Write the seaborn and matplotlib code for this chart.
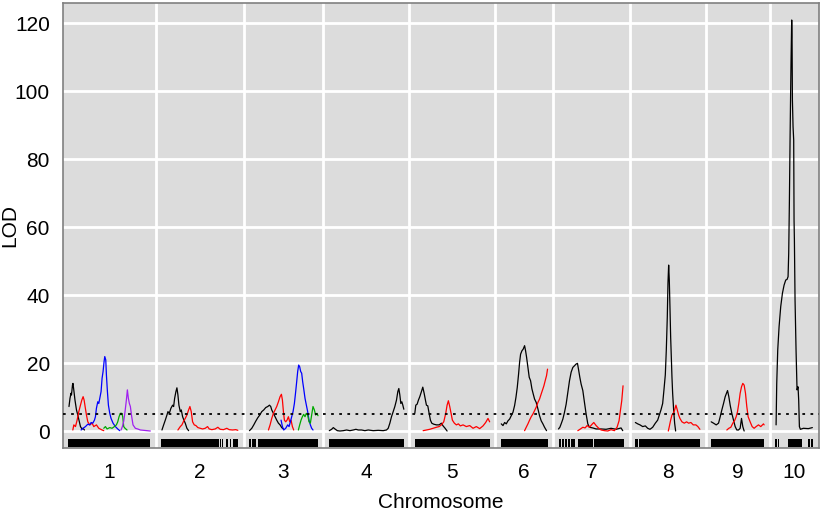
import numpy as np
import pandas as pd
import matplotlib
matplotlib.use("Agg")
import matplotlib.pyplot as plt
import seaborn as sns

# ---------------- data ----------------
chromosomes = ["1", "2", "3", "4", "5", "6", "7", "8", "9", "10"]
chrom_lengths = [164, 154, 138, 150, 150, 94, 132, 130, 106, 76]
gap = 22
lod_threshold = 5.0
y_ticks = [0, 20, 40, 60, 80, 100, 120]

c1_black_pos = [1, 3, 5, 6, 8, 9, 11, 13, 16, 19, 21, 24, 27, 29, 32]
c1_black_lod = [7.2, 9.6, 11.1, 10.6, 13.5, 14.0, 11.6, 9.1, 6.2, 4.5, 3.2, 1.3, 0.6, 0.8, 0.3]
c1_red_pos = [8.7, 10.7, 14, 17.3, 20.7, 24, 26.7, 29.3, 31.3, 33.3, 36, 38.7, 42.7, 47.3, 50.7, 56, 60.7, 67.3, 70.7]
c1_red_lod = [0.3, 1.8, 1.3, 3.2, 5.7, 7.6, 9.1, 10.1, 9.1, 7.2, 4.7, 2.7, 1.8, 2.3, 1.3, 1.8, 0.8, 0.3, 0.1]
c1_blue_pos = [25.3, 29.3, 34, 38.7, 42.7, 45.3, 48.7, 52, 54, 56, 58.7, 60.7, 62.7, 65.3, 67.3, 69.3, 71.3, 72.7,
               74.7, 76, 78, 80, 82.7, 85.3, 89.3, 94, 98.7, 102.7]
c1_blue_lod = [0.3, 0.8, 1.3, 2.0, 1.8, 2.5, 2.3, 3.2, 4.2, 6.7, 8.6, 8.1, 9.6, 11.6, 15.5, 17.5, 20.4, 21.9,
               20.9, 16.5, 11.6, 7.6, 5.2, 3.7, 2.3, 1.3, 0.6, 0.1]
c1_green_pos = [70.7, 74, 77.3, 82.7, 87.3, 92, 96, 98.7, 101.3, 104, 106.7, 108.7, 110.7, 113.3, 117.3]
c1_green_lod = [0.8, 1.3, 0.6, 1.0, 0.8, 1.3, 1.8, 2.7, 4.2, 5.2, 5.2, 4.2, 1.3, 0.8, 0.3]
c1_purple_pos = [105.3, 108, 110.7, 113.3, 116, 118, 120, 122, 124, 126.7, 129.3, 134, 138.7, 144, 150.7, 157.3, 164]
c1_purple_lod = [0.3, 1.3, 2.9, 5.7, 9.1, 12.1, 9.6, 8.1, 7.2, 4.2, 1.8, 0.8, 0.6, 0.3, 0.2, 0.1, 0.0]

c2_black_pos = [1.3, 4.7, 8, 11.3, 13.3, 16, 19.3, 22.7, 24.7, 26.7, 29.3, 31.3, 33.3, 35.3, 38, 40, 42.7, 45.3, 48, 51.3, 54.7]
c2_black_lod = [0.3, 1.8, 3.2, 4.7, 5.7, 5.2, 6.7, 7.6, 7.2, 9.6, 11.6, 12.7, 10.6, 7.6, 5.7, 6.2, 4.2, 3.2, 2.3, 0.8, 0.1]
c2_red_pos = [33.3, 38, 41.3, 44.7, 48, 51.3, 54.7, 57.3, 60, 62.7, 66, 69.3, 73.3, 78, 82.7, 88, 92.7, 96, 101.3,
              108, 113.3, 118, 124.7, 131.3, 136, 142.7, 149.3, 153.3]
c2_red_lod = [0.3, 1.3, 1.8, 2.9, 3.7, 4.7, 6.2, 7.2, 5.7, 2.7, 1.8, 1.6, 1.0, 0.8, 0.6, 0.8, 1.3, 0.6, 0.4,
              0.6, 1.1, 0.5, 0.4, 0.8, 0.4, 0.3, 0.4, 0.2]

c3_black_pos = [0.7, 5.3, 9.3, 13.3, 17.3, 21.3, 25.3, 29.3, 33.3, 37.3, 40.7, 43.3, 45.3, 48.7, 52, 55.3, 58.7, 62, 65.3, 68.7]
c3_black_lod = [0.1, 0.8, 1.8, 2.9, 3.9, 4.7, 5.7, 6.2, 6.9, 7.2, 7.6, 7.2, 6.2, 5.2, 4.2, 3.2, 2.3, 1.8, 1.0, 0.6]
c3_red_pos = [38.7, 42, 45.3, 48.7, 52, 55.3, 58.7, 62, 64.7, 66.7, 68.7, 70.7, 73.3, 76, 78.7, 81.3, 84, 86.7, 89.3]
c3_red_lod = [0.3, 1.8, 3.7, 5.2, 6.2, 7.2, 8.6, 10.1, 10.8, 9.1, 5.7, 3.2, 2.7, 3.2, 4.2, 2.7, 3.2, 1.3, 0.3]
c3_blue_pos = [64, 66.7, 69.3, 73.3, 77.3, 80, 82.7, 85.3, 88, 90.7, 93.3, 95.3, 97.3, 99.3, 101.3, 103.3, 105.3,
               107.3, 109.3, 112, 114.7, 117.3, 120, 122.7, 125.3, 128]
c3_blue_lod = [3.2, 1.3, 0.3, 0.8, 1.8, 1.3, 2.7, 4.2, 5.7, 8.1, 11.6, 14.5, 17.5, 19.4, 18.9, 17.5, 17.0,
               14.5, 12.5, 9.6, 7.6, 5.7, 3.2, 1.8, 0.8, 0.3]
c3_green_pos = [98.7, 101.3, 104, 106.7, 109.3, 112, 114.7, 117.3, 120, 122.7, 125.3, 128, 130.7, 133.3, 136, 138]
c3_green_lod = [0.3, 1.8, 3.2, 4.2, 4.9, 4.2, 5.2, 4.7, 2.7, 2.3, 4.7, 7.2, 6.2, 4.7, 5.2, 4.5]

c4_black_pos = [0.7, 5.3, 8.7, 12, 16.7, 22, 28.7, 35.3, 42, 48.7, 54, 58.7, 65.3, 72, 78.7, 88.7, 98.7, 108.7,
                115.3, 118.7, 122, 125.3, 128.7, 132, 135.3, 138, 140, 142, 144, 146, 148, 150]
c4_black_lod = [0.1, 0.5, 1.0, 0.6, 0.1, 0.0, 0.1, 0.3, 0.1, 0.3, 0.5, 0.3, 0.3, 0.1, 0.3, 0.1, 0.2, 0.1,
                0.3, 0.8, 2.3, 4.2, 5.7, 7.2, 9.1, 11.6, 12.5, 10.6, 8.1, 8.6, 7.6, 6.4]

c5_black_pos = [0, 2, 4.7, 7.3, 10, 13.3, 16, 18.7, 21.3, 23.3, 26, 28.7, 31.3, 34, 38, 43.3, 48.7, 53.3, 56.7, 60.7, 64.7]
c5_black_lod = [5.2, 7.6, 7.9, 9.1, 10.1, 11.6, 12.9, 11.1, 9.1, 7.6, 7.4, 5.2, 3.2, 2.3, 2.0, 1.8, 1.8, 2.3, 1.5, 0.8, 0.0]
c5_red_pos = [16.7, 23.3, 30, 36.7, 43.3, 48.7, 53.3, 58, 62, 64.7, 67.3, 70, 72.7, 75.3, 79.3, 83.3, 87.3, 91.3,
              96.7, 103.3, 110, 116.7, 123.3, 130, 136.7, 142, 146.7, 150]
c5_red_lod = [0.1, 0.3, 0.5, 0.8, 1.1, 1.3, 1.8, 2.7, 5.2, 7.6, 8.9, 7.2, 5.2, 3.2, 2.3, 1.8, 2.1, 1.5,
              1.8, 1.3, 1.6, 0.8, 1.3, 0.7, 1.5, 2.5, 3.7, 2.7]

c6_black_pos = [1.3, 4.7, 8, 11.3, 14.7, 18, 21.3, 24.7, 28, 30.7, 33.3, 36, 38, 40, 42.7, 45.3, 48, 50, 52, 54.7,
                57.3, 60, 62.7, 65.3, 68, 71.3, 74.7, 78, 81.3, 84.7, 88, 92]
c6_black_lod = [2.1, 1.6, 2.5, 2.1, 3.0, 3.5, 4.5, 5.5, 7.5, 9.9, 12.8, 16.8, 20.2, 22.6, 23.6, 24.1, 25.1, 23.6,
                21.7, 18.7, 15.8, 14.8, 12.4, 10.9, 9.4, 8.4, 6.5, 4.5, 3.0, 2.1, 1.1, 0.1]
c6_red_pos = [48, 51.3, 54.7, 58, 61.3, 64.7, 68, 71.3, 74.7, 78, 81.3, 84.7, 86.7, 89.3, 92, 94]
c6_red_lod = [0.1, 1.1, 2.1, 3.2, 4.2, 5.0, 6.0, 7.0, 8.4, 9.4, 10.9, 12.4, 13.3, 14.8, 16.3, 18.2]

c7_black_pos = [0, 2.7, 5.3, 8.7, 12, 15.3, 18.7, 22, 25.3, 28.7, 32, 35.3, 38, 40, 42.7, 45.3, 48.7, 52, 55.3,
                58.7, 62, 68.7, 75.3, 85.3, 95.3, 105.3, 115.3, 125.3, 128.7]
c7_black_lod = [0.6, 1.1, 2.1, 3.5, 5.5, 7.9, 11.4, 14.8, 17.3, 18.7, 19.2, 19.7, 19.9, 18.2, 15.8, 13.8, 11.9,
                8.4, 5.0, 2.1, 1.1, 0.9, 0.6, 0.6, 0.5, 0.8, 0.5, 0.9, 0.1]
c7_red_pos = [38.7, 44, 48.7, 53.3, 57.3, 62, 66.7, 70.7, 75.3, 80, 85.3, 92, 98.7, 105.3, 112, 117.3, 121.3,
              124, 126.7, 129.3]
c7_red_lod = [0.1, 0.6, 1.1, 0.9, 1.6, 1.1, 1.9, 2.5, 1.6, 0.9, 0.3, 0.1, 0.0, 0.4, 0.1, 1.1, 3.0, 6.0, 8.9, 13.3]

c8_black_pos = [0, 4.7, 9.3, 14.7, 20, 24.7, 29.3, 34.7, 40, 44.7, 48, 51.3, 54.7, 57.3, 60, 62, 64, 65.3, 66.7,
                68, 69.3, 70.7, 72, 73.3, 74.7, 76.7, 78.7, 80.7]
c8_black_lod = [2.5, 2.1, 1.8, 1.3, 1.5, 0.8, 0.5, 1.1, 2.3, 3.2, 4.7, 6.2, 8.1, 12.1, 16.5, 23.8, 33.6, 43.4,
                48.8, 44.4, 36.6, 27.7, 21.9, 16.0, 11.1, 6.2, 2.3, 0.0]
c8_red_pos = [66, 68, 70.7, 73.3, 76, 78.7, 81.3, 84, 86.7, 89.3, 93.3, 98, 102.7, 106.7, 111.3, 116, 121.3, 125.3, 129.3]
c8_red_lod = [0.0, 1.3, 3.2, 4.7, 5.2, 6.2, 7.6, 6.2, 4.7, 3.7, 2.7, 2.3, 2.7, 2.3, 2.5, 1.8, 1.8, 1.3, 0.5]

c9_black_pos = [0, 4.7, 10, 14.7, 18, 21.3, 24.7, 28, 32.7, 35.3, 38, 41.3, 44.7, 48, 51.3, 54.7, 58, 60.7, 63.3, 66]
c9_black_lod = [2.7, 2.3, 1.8, 2.3, 4.2, 6.2, 8.1, 10.1, 11.9, 10.1, 7.6, 5.2, 3.2, 1.3, 0.3, 0.3, 0.8, 3.7, 1.3, 0.0]
c9_red_pos = [31.3, 35.3, 39.3, 43.3, 47.3, 50, 52.7, 55.3, 58, 60.7, 63.3, 66, 68.7, 71.3, 74, 78, 82, 86, 90,
              94.7, 99.3, 104.7, 106]
c9_red_lod = [0.3, 0.8, 1.1, 2.3, 3.2, 4.2, 5.7, 8.1, 11.1, 13.0, 14.0, 13.5, 11.1, 7.2, 4.2, 2.7, 1.3, 0.8, 1.3,
              1.8, 1.3, 2.1, 1.8]

c10_black_pos = [2, 3.3, 5.3, 8, 11.3, 14.7, 18, 21.3, 24, 26, 27.3, 28.7, 30, 31.3, 32, 33.3, 34, 34.7, 36, 37.3,
                 38, 38.7, 40, 42, 44, 46, 47.3, 48.7, 50.7, 56.7, 66.7, 74.7]
c10_black_lod = [1.8, 14.0, 23.8, 30.7, 36.6, 40.5, 42.9, 44.4, 44.6, 45.4, 52.3, 67.9, 85.6, 101.3, 109.1, 120.9,
                 116.0, 97.4, 89.5, 85.6, 62.1, 56.2, 38.5, 23.8, 12.1, 13.0, 9.1, 1.3, 0.5, 0.8, 0.7, 1.0]

# marker coverage blocks (start, end) in cM within each chromosome
markers_chr1 = [(0, 164)]
markers_chr2 = [(0, 115), (117, 119), (122, 124), (130, 133), (137, 139), (143, 153)]
markers_chr3 = [(0, 3), (6, 14), (17, 138)]
markers_chr4 = [(0, 150)]
markers_chr5 = [(0, 150)]
markers_chr6 = [(0, 94)]
markers_chr7 = [(0, 4), (6, 10), (12, 17), (19, 24), (26, 34), (40, 70), (72, 132)]
markers_chr8 = [(0, 6), (8, 130)]
markers_chr9 = [(0, 106)]
markers_chr10 = [(0, 3), (5, 8), (26, 54), (66, 69), (71, 76)]

curves = [
    ("1", "black", c1_black_pos, c1_black_lod), ("1", "red", c1_red_pos, c1_red_lod),
    ("1", "blue", c1_blue_pos, c1_blue_lod), ("1", "green", c1_green_pos, c1_green_lod),
    ("1", "purple", c1_purple_pos, c1_purple_lod),
    ("2", "black", c2_black_pos, c2_black_lod), ("2", "red", c2_red_pos, c2_red_lod),
    ("3", "black", c3_black_pos, c3_black_lod), ("3", "red", c3_red_pos, c3_red_lod),
    ("3", "blue", c3_blue_pos, c3_blue_lod), ("3", "green", c3_green_pos, c3_green_lod),
    ("4", "black", c4_black_pos, c4_black_lod),
    ("5", "black", c5_black_pos, c5_black_lod), ("5", "red", c5_red_pos, c5_red_lod),
    ("6", "black", c6_black_pos, c6_black_lod), ("6", "red", c6_red_pos, c6_red_lod),
    ("7", "black", c7_black_pos, c7_black_lod), ("7", "red", c7_red_pos, c7_red_lod),
    ("8", "black", c8_black_pos, c8_black_lod), ("8", "red", c8_red_pos, c8_red_lod),
    ("9", "black", c9_black_pos, c9_black_lod), ("9", "red", c9_red_pos, c9_red_lod),
    ("10", "black", c10_black_pos, c10_black_lod),
]
marker_blocks = [markers_chr1, markers_chr2, markers_chr3, markers_chr4, markers_chr5,
                 markers_chr6, markers_chr7, markers_chr8, markers_chr9, markers_chr10]

# ---------------- layout ----------------
starts = {}
s = 0.0
for ch, ln in zip(chromosomes, chrom_lengths):
    starts[ch] = s
    s += ln + gap
total_end = s - gap

rows = []
for i, (ch, col, pos, lod) in enumerate(curves):
    for p, l in zip(pos, lod):
        rows.append({"curve": i, "trait": col, "gpos": starts[ch] + p, "lod": l})
df = pd.DataFrame(rows)

sns.set_style("white")
plt.rcParams["font.family"] = ["Liberation Sans", "DejaVu Sans"]

fig = plt.figure(figsize=(8.22, 5.14), dpi=100)
ax = fig.add_axes([63 / 822, 1 - 448 / 514, (819 - 63) / 822, (448 - 3) / 514])
ax.set_facecolor("#DCDCDC")

xmin, xmax = -11, total_end + 12
ax.set_xlim(xmin, xmax)
ax.set_ylim(-5.0, 125.9)

# white grid
for yv in y_ticks:
    ax.axhline(yv, color="white", lw=2.0, zorder=1)
for ch, ln in zip(chromosomes[:-1], chrom_lengths[:-1]):
    ax.axvline(starts[ch] + ln + gap / 2, color="white", lw=2.0, zorder=1)

palette = {"black": "black", "red": "#FF0000", "blue": "#0000FF", "green": "#00A800", "purple": "#A020F0"}
sns.lineplot(data=df, x="gpos", y="lod", hue="trait", units="curve", estimator=None, sort=False,
             palette=palette, legend=False, lw=0.9, ax=ax, zorder=3)

ax.axhline(lod_threshold, color="black", lw=1.3, ls=(0, (1.5, 3.0)), zorder=4)

# marker rug
for ch, blocks in zip(chromosomes, marker_blocks):
    ax.broken_barh([(starts[ch] + a, b - a) for a, b in blocks], (-4.8, 2.4),
                   facecolors="black", edgecolors="none", zorder=2)

ax.set_yticks(y_ticks)
ax.set_xticks([starts[ch] + ln / 2 for ch, ln in zip(chromosomes, chrom_lengths)])
ax.set_xticklabels(chromosomes)
ax.tick_params(axis="both", which="both", length=6, width=1, color="#555555",
               labelsize=15, labelcolor="black", direction="out")
ax.tick_params(axis="x", pad=5)
ax.tick_params(axis="y", pad=3.5)
ax.set_xlabel("Chromosome", fontsize=15, color="black")
ax.set_ylabel("LOD", fontsize=15, color="black")
ax.xaxis.set_label_coords(0.5, -0.1)
ax.yaxis.set_label_coords(-0.0575, 0.5)
for sp in ax.spines.values():
    sp.set_visible(True)
    sp.set_color("#808080")
    sp.set_linewidth(1.2)

fig.savefig("out.png", dpi=100)
